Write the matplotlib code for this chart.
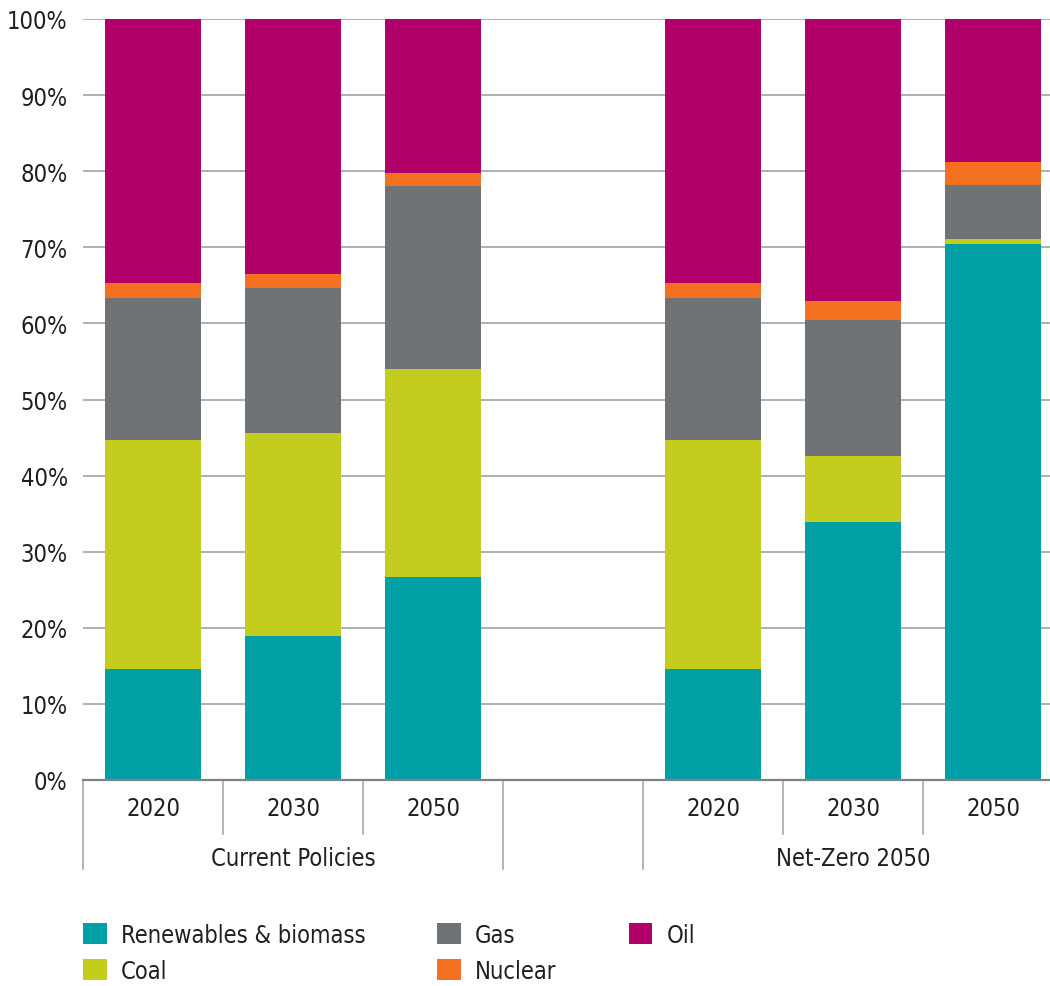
import numpy as np
import matplotlib
matplotlib.use('Agg')
import matplotlib.pyplot as plt
import matplotlib.transforms as mtransforms
from matplotlib.patches import Patch

plt.rcParams['font.family'] = ['DejaVu Sans']
plt.rcParams['font.stretch'] = 'condensed'

# data (shares in %)
scenarios = ['Current Policies', 'Net-Zero 2050']
years = ['2020', '2030', '2050']
renewables = [14.6, 18.9, 26.7, 14.6, 33.9, 70.4]
coal       = [30.1, 26.7, 27.3, 30.1,  8.7,  0.7]
gas        = [18.6, 19.1, 24.1, 18.6, 17.8,  7.1]
nuclear    = [ 2.0,  1.8,  1.7,  2.0,  2.5,  3.0]
oil        = [34.7, 33.5, 20.2, 34.7, 37.1, 18.8]

names = ['Renewables & biomass', 'Coal', 'Gas', 'Nuclear', 'Oil']
cols = ['#00A0A6', '#C3CD1E', '#6F7376', '#F37021', '#B2006A']
series = [renewables, coal, gas, nuclear, oil]

xpos = np.array([0, 1, 2, 4, 5, 6])
txt = '#231F20'
fs = 17

fig = plt.figure(figsize=(10.5, 9.87), dpi=100)
ax = fig.add_axes([83/1050, 1 - 781/987, 967/1050, 761/987])

bottom = np.zeros(len(xpos))
for vals, c, n in zip(series, cols, names):
    ax.bar(xpos, vals, 0.69, bottom=bottom, color=c, label=n, zorder=3, lw=0)
    bottom += np.array(vals)

ax.set_xlim(-0.5, -0.5 + 967/140)
ax.set_ylim(0, 100)
ax.set_yticks(np.arange(0, 101, 10))
ax.set_yticklabels(['{:d}%'.format(v) for v in range(0, 101, 10)], fontsize=fs, color=txt)
ax.tick_params(axis='y', length=0, pad=11)
ax.set_xticks([])
for s in ax.spines.values():
    s.set_visible(False)
for v in range(10, 101, 10):
    ax.axhline(v, color='#A7A9AC', lw=1.3, zorder=1)
ax.axhline(0, color='#808285', lw=1.6, zorder=4, clip_on=False)

# grouped category axis
tr = mtransforms.blended_transform_factory(ax.transData, ax.transAxes)
for xb in [-0.5, 2.5, 3.5]:
    ax.plot([xb, xb], [0, -0.117], transform=tr, color='#A7A9AC', lw=1.2, clip_on=False)
for xb in [0.5, 1.5, 4.5, 5.5]:
    ax.plot([xb, xb], [0, -0.071], transform=tr, color='#A7A9AC', lw=1.2, clip_on=False)
for i, x in enumerate(xpos):
    ax.text(x, -0.037, years[i % 3], transform=tr, ha='center', va='center',
            fontsize=fs, color=txt)
ax.text(1, -0.102, scenarios[0], transform=tr, ha='center', va='center', fontsize=fs, color=txt)
ax.text(5, -0.102, scenarios[1], transform=tr, ha='center', va='center', fontsize=fs, color=txt)

handles = [Patch(facecolor=c, edgecolor='none') for c in cols]
fig.legend(handles, names, ncol=3, loc='upper left', bbox_to_anchor=(83/1050, 1 - 924/987),
           frameon=False, fontsize=fs, handlelength=1.0, handleheight=1.0, borderpad=0,
           borderaxespad=0, handletextpad=0.6, columnspacing=3.05, labelspacing=0.5,
           labelcolor=txt)

fig.savefig('out.png', dpi=100)
